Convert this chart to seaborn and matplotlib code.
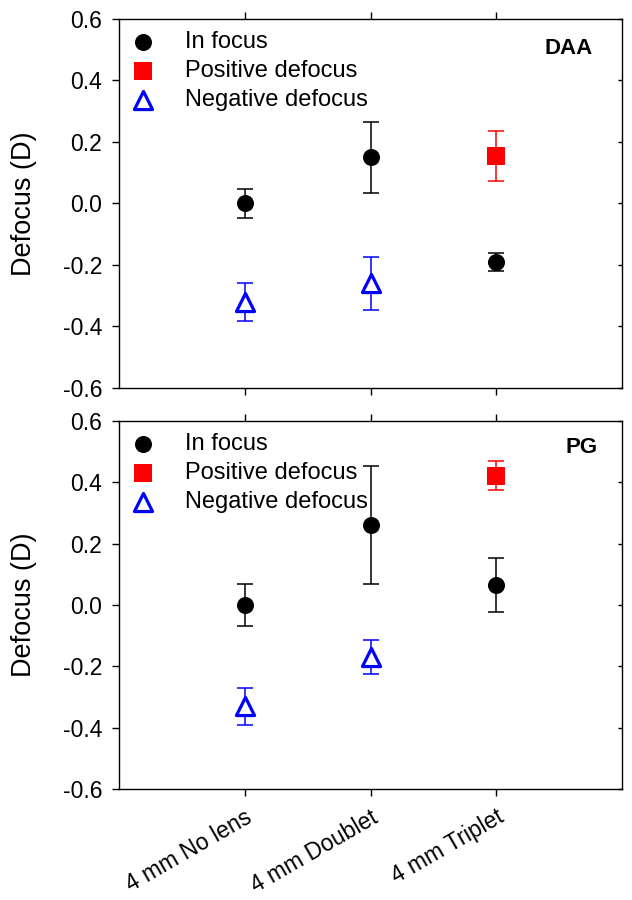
import numpy as np
import pandas as pd
import matplotlib
matplotlib.use("Agg")
import matplotlib.pyplot as plt
import seaborn as sns

# --- データ ---
CONDITIONS = ['4 mm No lens', '4 mm Doublet', '4 mm Triplet']

# DAA
daa_in_x = ['4 mm No lens', '4 mm Doublet', '4 mm Triplet']
daa_in_y = [0.00, 0.15, -0.19]
daa_in_err = [0.047, 0.115, 0.03]
daa_pos_x = ['4 mm Triplet']
daa_pos_y = [0.155]
daa_pos_err = [0.082]
daa_neg_x = ['4 mm No lens', '4 mm Doublet']
daa_neg_y = [-0.32, -0.26]
daa_neg_err = [0.063, 0.086]

# PG
pg_in_x = ['4 mm No lens', '4 mm Doublet', '4 mm Triplet']
pg_in_y = [0.00, 0.26, 0.065]
pg_in_err = [0.068, 0.193, 0.088]
pg_pos_x = ['4 mm Triplet']
pg_pos_y = [0.422]
pg_pos_err = [0.048]
pg_neg_x = ['4 mm No lens', '4 mm Doublet']
pg_neg_y = [-0.33, -0.17]
pg_neg_err = [0.06, 0.055]

Y_TICKS = [-0.6, -0.4, -0.2, 0.0, 0.2, 0.4, 0.6]

sns.set_theme(style='white')
plt.rcParams['font.family'] = ['Liberation Sans', 'DejaVu Sans']
plt.rcParams['axes.unicode_minus'] = False
for k in ('text.color', 'axes.labelcolor', 'xtick.color', 'ytick.color'):
    plt.rcParams[k] = 'black'


def make_df(x, y, err):
    return pd.DataFrame({'pos': [CONDITIONS.index(c) for c in x], 'y': y, 'err': err})


def draw_panel(ax, series, tag, tag_xy):
    # series: (df, label, color, marker, filled)
    for df, label, color, marker, filled in series:
        ax.errorbar(df['pos'], df['y'], yerr=df['err'], fmt='none',
                    ecolor=color, elinewidth=1.1, capsize=6, capthick=1.1, zorder=2)
        if filled:
            sns.scatterplot(data=df, x='pos', y='y', ax=ax, color=color, marker=marker,
                            s=150, edgecolor=color, linewidth=0, label=label, zorder=3)
        else:
            ax.scatter(df['pos'], df['y'], marker=marker, s=170, facecolors='white',
                       edgecolors=color, linewidths=2.3, label=label, zorder=3)
    ax.set_xlim(-1, 3)
    ax.set_ylim(-0.6, 0.6)
    ax.set_yticks(Y_TICKS)
    ax.set_yticklabels([f'{v:.1f}' for v in Y_TICKS])
    ax.set_xticks(range(len(CONDITIONS)))
    ax.set_xlabel('')
    ax.set_ylabel('Defocus (D)', fontsize=19.5)
    ax.yaxis.set_label_coords(-0.163, 0.5)
    for s in ax.spines.values():
        s.set_visible(True)
        s.set_color('black')
        s.set_linewidth(1.0)
    ax.tick_params(axis='both', which='both', direction='out', length=5, width=1.0,
                   color='black', labelsize=16.5, pad=7, top=True, bottom=True, left=True)
    ax.text(tag_xy[0], tag_xy[1], tag, transform=ax.transAxes, ha='right', va='center',
            fontsize=16, fontweight='bold')
    leg = ax.legend(loc='upper left', frameon=False, fontsize=17, handlelength=1.0,
                    handletextpad=1.3, borderaxespad=0.1, labelspacing=0.3,
                    bbox_to_anchor=(0.0, 1.0))
    return leg


fig = plt.figure(figsize=(6.32, 9), dpi=100)
ax1 = fig.add_axes([0.1883, 0.5689, 0.7959, 0.41])
ax2 = fig.add_axes([0.1883, 0.1233, 0.7959, 0.4089])

draw_panel(ax1, [
    (make_df(daa_in_x, daa_in_y, daa_in_err), 'In focus', 'black', 'o', True),
    (make_df(daa_pos_x, daa_pos_y, daa_pos_err), 'Positive defocus', 'red', 's', True),
    (make_df(daa_neg_x, daa_neg_y, daa_neg_err), 'Negative defocus', 'blue', '^', False),
], 'DAA', (0.942, 0.921))

draw_panel(ax2, [
    (make_df(pg_in_x, pg_in_y, pg_in_err), 'In focus', 'black', 'o', True),
    (make_df(pg_pos_x, pg_pos_y, pg_pos_err), 'Positive defocus', 'red', 's', True),
    (make_df(pg_neg_x, pg_neg_y, pg_neg_err), 'Negative defocus', 'blue', '^', False),
], 'PG', (0.952, 0.929))

# 右側の目盛りは内向きで短く
for ax in (ax1, ax2):
    ax.yaxis.set_ticks_position('both')
    for t in ax.yaxis.get_major_ticks():
        t.tick2line.set_markersize(3)
        t.tick2line.set_marker(matplotlib.lines.TICKLEFT)

ax1.set_xticklabels([])
ax2.set_xticklabels(CONDITIONS, rotation=30, ha='right', rotation_mode='anchor', fontsize=16.5)

fig.savefig('out.png', dpi=100)
